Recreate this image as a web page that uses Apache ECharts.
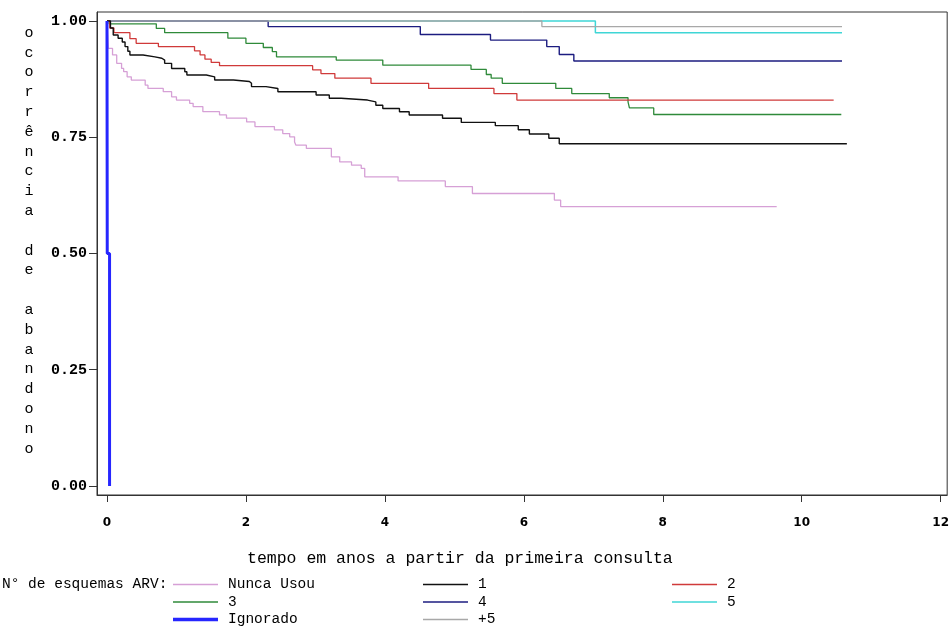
<!DOCTYPE html>
<html><head><meta charset="utf-8">
<script src="https://cdn.jsdelivr.net/npm/echarts@6/dist/echarts.min.js"></script>
<style>html,body{margin:0;padding:0;background:#fff}#c{width:952px;height:627px}</style>
</head><body><div id="c"></div>
<script>
// ---- data (time in years, proportion) ----
const nuncaUsou = [[0,1],[0.02,0.941],[0.08,0.927],[0.14,0.909],[0.21,0.898],[0.24,0.891],[0.29,0.880],[0.35,0.873],[0.55,0.862],[0.59,0.855],[0.81,0.848],[0.93,0.837],[1.00,0.830],[1.19,0.823],[1.24,0.816],[1.38,0.805],[1.62,0.798],[1.72,0.791],[2.01,0.783],[2.13,0.773],[2.41,0.766],[2.53,0.758],[2.63,0.751],[2.70,0.740],[2.72,0.733],[2.87,0.726],[3.23,0.708],[3.35,0.697],[3.52,0.690],[3.66,0.683],[3.71,0.665],[4.19,0.656],[4.87,0.644],[5.26,0.629],[6.44,0.615],[6.53,0.601],[9.64,0.601]];
const esquema1 = [[0,1],[0.05,0.985],[0.09,0.970],[0.16,0.963],[0.22,0.955],[0.26,0.945],[0.30,0.935],[0.33,0.927],[0.52,0.923],[0.69,0.920],[0.79,0.916],[0.83,0.909],[0.93,0.898],[1.12,0.891],[1.15,0.884],[1.43,0.880],[1.55,0.873],[1.82,0.870],[2.05,0.866],[2.08,0.859],[2.29,0.855],[2.46,0.848],[3.01,0.841],[3.20,0.834],[3.37,0.830],[3.75,0.826],[3.87,0.819],[3.97,0.812],[4.21,0.805],[4.35,0.798],[4.83,0.791],[5.10,0.782],[5.59,0.775],[5.92,0.766],[6.08,0.757],[6.36,0.748],[6.51,0.736],[10.65,0.736]];
const esquema2 = [[0,1],[0.04,0.985],[0.10,0.975],[0.33,0.962],[0.42,0.952],[0.74,0.945],[1.26,0.936],[1.34,0.927],[1.41,0.918],[1.50,0.911],[1.62,0.904],[2.96,0.895],[3.08,0.887],[3.28,0.877],[3.80,0.866],[4.63,0.855],[5.57,0.844],[5.90,0.830],[10.46,0.830]];
const esquema3 = [[0,1],[0.03,0.994],[0.71,0.984],[0.83,0.975],[1.74,0.963],[2.00,0.952],[2.25,0.943],[2.38,0.934],[2.44,0.923],[3.30,0.916],[3.97,0.905],[5.24,0.896],[5.46,0.885],[5.53,0.877],[5.69,0.866],[6.46,0.855],[6.69,0.844],[7.23,0.835],[7.50,0.826],[7.52,0.813],[7.87,0.799],[10.57,0.799]];
const esquema4 = [[0,1],[2.32,0.988],[4.51,0.971],[5.52,0.959],[6.33,0.945],[6.51,0.928],[6.72,0.914],[10.58,0.914]];
const esquema5 = [[0,1],[7.03,0.975],[10.58,0.975]];
const esquemaMais5 = [[0,1],[6.26,0.988],[10.58,0.988]];
const ignorado = [[0,1],[0.004,0.5],[0.037,0]];

const xTicks = [0,2,4,6,8,10,12];
const yTicks = [0,0.25,0.5,0.75,1];
const xTitle = 'tempo em anos a partir da primeira consulta';
const yTitleWords = ['ocorrência','de','abandono'];
const legendTitle = 'N° de esquemas ARV:';
const legendCol1 = ['Nunca Usou','3','Ignorado'];
const legendCol2 = ['1','4','+5'];
const legendCol3 = ['2','5'];

const colors = {'Nunca Usou':'#d6a0d6','1':'#111111','2':'#d03a3a','3':'#2f8a3a','4':'#1c1c80','5':'#3fd6d6','Ignorado':'#2626ff','+5':'#a8a8a8'};

function mk(name, data, width, z) {
  return {name, type:'line', step:'end', data, showSymbol:false, symbol:'none', silent:true, z,
    color: colors[name], lineStyle:{color:colors[name], width}, itemStyle:{color:colors[name], borderWidth:0}};
}
const thin = 'path://M0,0H45V1.3H0Z';
const thick = 'path://M0,0H45V3.5H0Z';
const lt = {fontFamily:'Liberation Mono', fontSize:14.5, color:'#000', padding:[0,0,0,5]};
function lg(left, names) {
  return {left, top:577, orient:'vertical', itemWidth:45, itemHeight:14, itemGap:2.5, padding:0,
    selectedMode:false, textStyle:lt, itemStyle:{borderWidth:0},
    data: names.map(n => ({name:n, icon: n==='Ignorado'?thick:thin, itemStyle:{color:colors[n], borderWidth:0}}))};
}
const yTitleText = yTitleWords.map(w => w.split('').join('\n')).join('\n\n');

const chart = echarts.init(document.getElementById('c'));
chart.setOption({
  animation:false,
  backgroundColor:'#fff',
  grid:{left:97, top:12, right:3.5, bottom:132, show:true, borderColor:'#333', borderWidth:1},
  xAxis:{type:'value', min:-0.1437, max:12.094,
    axisLine:{show:true, onZero:false, lineStyle:{color:'#333', width:1}},
    axisTick:{show:true, length:7, customValues:xTicks, lineStyle:{color:'#333'}},
    axisLabel:{customValues:xTicks, margin:22, fontFamily:'DejaVu Sans', fontWeight:'bold', fontSize:12, color:'#000'},
    splitLine:{show:false}},
  yAxis:{type:'value', min:-0.0194, max:1.0194,
    axisLine:{show:true, onZero:false, lineStyle:{color:'#333', width:1}},
    axisTick:{show:true, length:8, customValues:yTicks, lineStyle:{color:'#333'}},
    axisLabel:{customValues:yTicks, margin:10, fontFamily:'Liberation Mono', fontWeight:'bold', fontSize:15, color:'#000',
      formatter: v => v.toFixed(2)},
    splitLine:{show:false}},
  legend:[lg(173, legendCol1), lg(423, legendCol2), lg(672, legendCol3)],
  graphic:[
    {type:'text', x:29, y:23, silent:true, style:{text:yTitleText, fill:'#000', fontFamily:'Liberation Mono', fontSize:15, align:'center', verticalAlign:'top', lineHeight:19.8}},
    {type:'text', x:247, y:559, silent:true, style:{text:xTitle, fill:'#000', fontFamily:'Liberation Mono', fontSize:16.5, align:'left', verticalAlign:'middle'}},
    {type:'text', x:2, y:584, silent:true, style:{text:legendTitle, fill:'#000', fontFamily:'Liberation Mono', fontSize:14.5, align:'left', verticalAlign:'middle'}}
  ],
  series:[
    mk('5', esquema5, 1.5, 2),
    mk('4', esquema4, 1.4, 3),
    mk('+5', esquemaMais5, 1.3, 4),
    mk('3', esquema3, 1.3, 5),
    mk('2', esquema2, 1.3, 6),
    mk('1', esquema1, 1.4, 7),
    mk('Nunca Usou', nuncaUsou, 1.3, 8),
    mk('Ignorado', ignorado, 3, 9)
  ]
});
</script></body></html>
